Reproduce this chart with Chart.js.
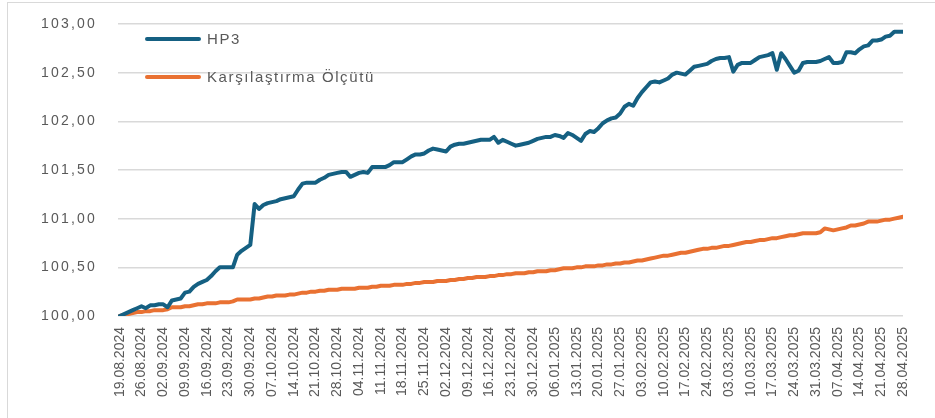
<!DOCTYPE html>
<html>
<head>
<meta charset="utf-8">
<script src="https://cdn.jsdelivr.net/npm/chart.js@4.4.1/dist/chart.umd.min.js"></script>
<style>
    html, body { margin: 0; padding: 0; background: #fff; }
    #wrap { position: relative; width: 935px; height: 418px; overflow: hidden; }
    #frame { position: absolute; left: 7px; top: 2px; width: 940px; height: 430px; border: 1px solid #d9d9d9; box-sizing: border-box; }
    #myChart { position: absolute; left: 0; top: 0; }
</style>
</head>
<body>
<div id="wrap">
    <div id="frame"></div>
    <canvas id="myChart" width="935" height="418"></canvas>
</div>
<script>
// weekly tick labels (one every 5 business days)
const weekLabels = [
    '19.08.2024', '26.08.2024', '02.09.2024', '09.09.2024', '16.09.2024', '23.09.2024', '30.09.2024',
    '07.10.2024', '14.10.2024', '21.10.2024', '28.10.2024', '04.11.2024', '11.11.2024', '18.11.2024',
    '25.11.2024', '02.12.2024', '09.12.2024', '16.12.2024', '23.12.2024', '30.12.2024', '06.01.2025',
    '13.01.2025', '20.01.2025', '27.01.2025', '03.02.2025', '10.02.2025', '17.02.2025', '24.02.2025',
    '03.03.2025', '10.03.2025', '17.03.2025', '24.03.2025', '31.03.2025', '07.04.2025', '14.04.2025',
    '21.04.2025', '28.04.2025'
];

// daily values (business days)
const hp3 = [
    100.00, 100.02, 100.04, 100.06, 100.08, 100.10, 100.08, 100.11, 100.11, 100.12,
    100.12, 100.09, 100.16, 100.17, 100.18, 100.24, 100.25, 100.30, 100.33, 100.35,
    100.37, 100.41, 100.46, 100.50, 100.50, 100.50, 100.50, 100.63, 100.67, 100.70,
    100.73, 101.15, 101.10, 101.14, 101.16, 101.17, 101.18, 101.20, 101.21, 101.22,
    101.23, 101.30, 101.36, 101.37, 101.37, 101.37, 101.40, 101.42, 101.45, 101.46,
    101.47, 101.48, 101.48, 101.43, 101.45, 101.47, 101.48, 101.47, 101.53, 101.53,
    101.53, 101.53, 101.55, 101.58, 101.58, 101.58, 101.61, 101.64, 101.66, 101.66,
    101.67, 101.70, 101.72, 101.71, 101.70, 101.69, 101.74, 101.76, 101.77, 101.77,
    101.78, 101.79, 101.80, 101.81, 101.81, 101.81, 101.84, 101.78, 101.81, 101.79,
    101.77, 101.75, 101.76, 101.77, 101.78, 101.80, 101.82, 101.83, 101.84, 101.84,
    101.86, 101.85, 101.83, 101.88, 101.86, 101.83, 101.80, 101.87, 101.90, 101.89,
    101.93, 101.98, 102.01, 102.03, 102.04, 102.08, 102.15, 102.18, 102.16, 102.24,
    102.30, 102.35, 102.40, 102.41, 102.40, 102.42, 102.44, 102.48, 102.50, 102.49,
    102.48, 102.52, 102.56, 102.57, 102.58, 102.59, 102.62, 102.64, 102.65, 102.65,
    102.66, 102.51, 102.58, 102.60, 102.60, 102.60, 102.63, 102.66, 102.67, 102.68,
    102.70, 102.53, 102.70, 102.64, 102.57, 102.50, 102.52, 102.60, 102.61, 102.61,
    102.61, 102.62, 102.64, 102.66, 102.60, 102.60, 102.61, 102.71, 102.71, 102.70,
    102.74, 102.77, 102.78, 102.83, 102.83, 102.84, 102.87, 102.88, 102.92, 102.92,
    102.92
];

const benchmark = [
    100.00, 100.01, 100.02, 100.03, 100.04, 100.04, 100.05, 100.05, 100.06, 100.06,
    100.06, 100.07, 100.09, 100.09, 100.09, 100.10, 100.10, 100.11, 100.12, 100.12,
    100.13, 100.13, 100.13, 100.14, 100.14, 100.14, 100.15, 100.17, 100.17, 100.17,
    100.17, 100.18, 100.18, 100.19, 100.20, 100.20, 100.21, 100.21, 100.21, 100.22,
    100.22, 100.23, 100.24, 100.24, 100.25, 100.25, 100.26, 100.26, 100.27, 100.27,
    100.27, 100.28, 100.28, 100.28, 100.28, 100.29, 100.29, 100.29, 100.30, 100.30,
    100.31, 100.31, 100.31, 100.32, 100.32, 100.32, 100.33, 100.33, 100.34, 100.34,
    100.35, 100.35, 100.35, 100.36, 100.36, 100.36, 100.37, 100.37, 100.38, 100.38,
    100.39, 100.39, 100.40, 100.40, 100.40, 100.41, 100.41, 100.42, 100.42, 100.43,
    100.43, 100.44, 100.44, 100.44, 100.45, 100.45, 100.46, 100.46, 100.46, 100.47,
    100.47, 100.48, 100.49, 100.49, 100.49, 100.50, 100.50, 100.51, 100.51, 100.51,
    100.52, 100.52, 100.53, 100.53, 100.54, 100.54, 100.55, 100.55, 100.56, 100.57,
    100.57, 100.58, 100.59, 100.60, 100.61, 100.62, 100.62, 100.63, 100.64, 100.65,
    100.65, 100.66, 100.67, 100.68, 100.69, 100.69, 100.70, 100.70, 100.71, 100.72,
    100.72, 100.73, 100.74, 100.75, 100.76, 100.76, 100.77, 100.78, 100.78, 100.79,
    100.80, 100.80, 100.81, 100.82, 100.83, 100.83, 100.84, 100.85, 100.85, 100.85,
    100.85, 100.86, 100.90, 100.89, 100.88, 100.89, 100.90, 100.91, 100.93, 100.93,
    100.94, 100.95, 100.97, 100.97, 100.97, 100.98, 100.99, 100.99, 101.00, 101.01,
    101.02
];

const seriesNames = ['HP3', 'Karşılaştırma Ölçütü'];
const seriesColors = ['#156082', '#E97132'];

const textColor = '#595959';

function toPoints(values) {
    return values.map((v, i) => ({ x: i, y: v }));
}

// legend drawn inside the plot, top left
const insideLegend = {
    id: 'insideLegend',
    afterDraw(chart) {
        const ctx = chart.ctx;
        ctx.save();
        ctx.font = '15px "Liberation Sans", Arial, sans-serif';
        ctx.letterSpacing = '1.6px';
        ctx.fillStyle = textColor;
        ctx.textBaseline = 'middle';
        ctx.lineCap = 'round';
        ctx.lineWidth = 4;
        chart.data.datasets.forEach((ds, i) => {
            const y = 39 + i * 38;
            ctx.strokeStyle = ds.borderColor;
            ctx.beginPath();
            ctx.moveTo(147, y);
            ctx.lineTo(199, y);
            ctx.stroke();
            ctx.fillText(ds.label, 207, y + 1);
        });
        ctx.restore();
    }
};

// wider spacing on the value labels
const spacedValueTicks = {
    id: 'spacedValueTicks',
    afterLayout(chart) {
        const scale = chart.scales.y;
        if (scale._spaced) return;
        const draw = scale.drawLabels;
        scale.drawLabels = function(area) {
            this.ctx.save();
            this.ctx.letterSpacing = '2.2px';
            draw.call(this, area);
            this.ctx.restore();
        };
        scale._spaced = true;
    }
};

const ctx = document.getElementById('myChart').getContext('2d');

new Chart(ctx, {
    type: 'line',
    data: {
        datasets: [hp3, benchmark].map((values, i) => ({
            label: seriesNames[i],
            data: toPoints(values),
            borderColor: seriesColors[i],
            backgroundColor: seriesColors[i],
            borderWidth: 4,
            pointRadius: 0,
            fill: false,
            tension: 0,
            borderJoinStyle: 'round',
            borderCapStyle: 'round'
        }))
    },
    options: {
        responsive: false,
        animation: false,
        events: [],
        layout: {
            padding: { top: 24, right: 32, left: 0, bottom: 0 }
        },
        plugins: {
            legend: { display: false },
            tooltip: { enabled: false }
        },
        scales: {
            x: {
                type: 'linear',
                min: -0.4,
                max: 180,
                grid: { display: false, drawTicks: false },
                border: { display: false },
                afterBuildTicks: function(scale) {
                    scale.ticks = weekLabels.map((l, i) => ({ value: i * 5 }));
                },
                afterFit: function(scale) {
                    scale.height = 102;
                },
                ticks: {
                    autoSkip: false,
                    maxRotation: 90,
                    minRotation: 90,
                    padding: 11,
                    color: textColor,
                    font: { family: '"Liberation Sans", Arial, sans-serif', size: 14 },
                    callback: function(value) {
                        return weekLabels[Math.round(value / 5)];
                    }
                }
            },
            y: {
                min: 100,
                max: 103,
                afterFit: function(scale) {
                    scale.width = 118;
                    // keep the label padding from pushing the plot down
                    scale.paddingTop = 8;
                    scale.paddingBottom = 8;
                },
                grid: { color: '#d9d9d9', lineWidth: 1.5, drawTicks: false },
                border: { display: false },
                ticks: {
                    stepSize: 0.5,
                    padding: 21,
                    color: textColor,
                    font: { family: '"Liberation Sans", Arial, sans-serif', size: 14 },
                    callback: function(value) {
                        return value.toFixed(2).replace('.', ',');
                    }
                }
            }
        }
    },
    plugins: [insideLegend, spacedValueTicks]
});
</script>
</body>
</html>
